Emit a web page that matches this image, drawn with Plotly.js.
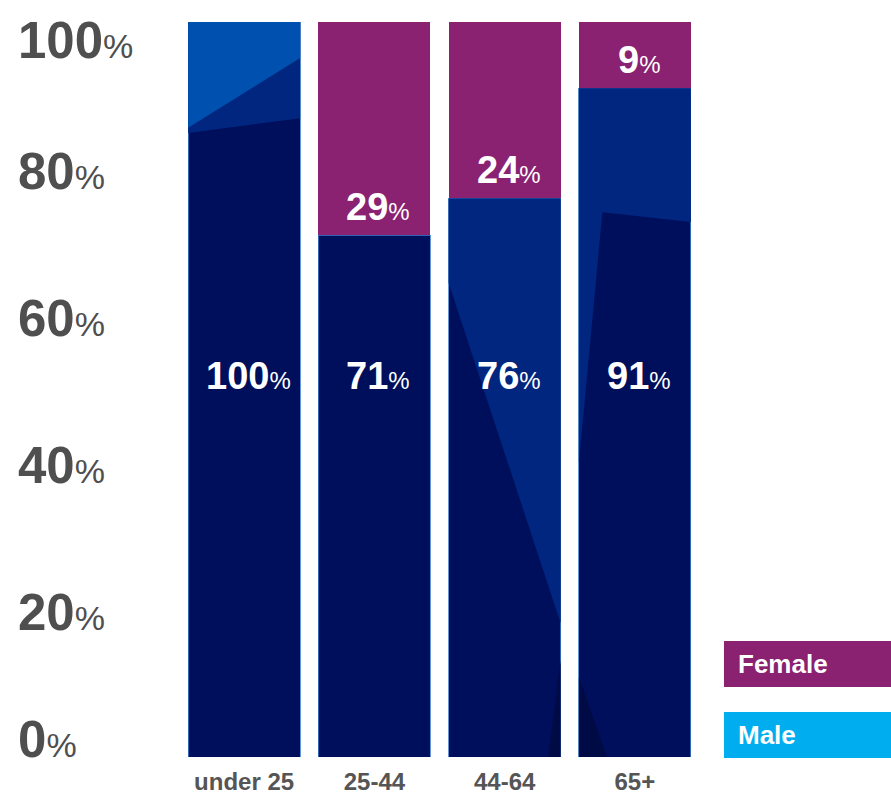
<!DOCTYPE html>
<html>
<head>
<meta charset="utf-8">
<script src="https://cdn.plot.ly/plotly-3.0.1.min.js"></script>
<style>html,body{margin:0;padding:0;background:#fff;}#chart{width:891px;height:798px;}</style>
</head>
<body>
<div id="chart"></div>
<script>
// ---- data ----
const categories = ["under 25", "25-44", "44-64", "65+"];
const maleValues = [100, 71, 76, 91];
const femaleValues = [0, 29, 24, 9];
const yTickValues = [0, 20, 40, 60, 80, 100];

// ---- style ----
const NAVY = "#000F5C", MID = "#00267F", LIGHT = "#0051AF", DEEP = "#000A45";
const PURPLE = "#8A2171", CYAN = "#00AEEF", GREY = "#4F4F4F";
const FONT = "Liberation Sans, Arial, Helvetica, sans-serif";
const BARW = 0.86;

const traces = [
  {
    type: "bar", name: "Male", x: categories, y: maleValues, width: BARW,
    marker: {color: NAVY, line: {color: "#3B7BCB", width: 0.8}},
    hoverinfo: "skip"
  },
  {
    type: "bar", name: "Female", x: categories, y: femaleValues, width: BARW,
    marker: {color: PURPLE, line: {width: 0}},
    hoverinfo: "skip"
  }
];

// decorative shading inside the male bars: [barIndex, color, points as [fraction across bar, y or 'top']]
const shading = [
  [0, MID,   [[0, "top"], [1, "top"], [1, 86.9], [0, 84.9]]],
  [0, LIGHT, [[0, "top"], [1, "top"], [1, 95.1], [0, 85.6]]],
  [2, MID,   [[0, "top"], [1, "top"], [1, 18.2], [0, 64.5]]],
  [2, DEEP,  [[1, 13.2], [1, 0], [0.89, 0]]],
  [3, MID,   [[0, "top"], [1, "top"], [1, 72.8], [0.21, 74.1], [0, 40]]],
  [3, DEEP,  [[0, 10.9], [0, 0], [0.25, 0]]]
];
const shapes = shading.map(([i, color, pts]) => {
  const path = pts.map((p, k) => {
    const x = i - BARW / 2 + p[0] * BARW;
    const y = p[1] === "top" ? maleValues[i] : p[1];
    return (k === 0 ? "M" : "L") + x + "," + y;
  }).join(" ") + " Z";
  return {type: "path", xref: "x", yref: "y", path: path, fillcolor: color, line: {width: 0}, layer: "above"};
});

// legend boxes
shapes.push({type: "rect", xref: "paper", yref: "paper", x0: 1.046, x1: 1.37, y0: 0.0952, y1: 0.1578, fillcolor: PURPLE, line: {width: 0}});
shapes.push({type: "rect", xref: "paper", yref: "paper", x0: 1.046, x1: 1.37, y0: -0.0014, y1: 0.0612, fillcolor: CYAN, line: {width: 0}});

const pct = (v, small) => "<b>" + v + "</b><span style='font-size:" + small + "px'>%</span>";

const annotations = [];
// y axis labels
yTickValues.forEach(v => {
  let ys = -2;
  if (v === 100) ys = -18;
  if (v === 0) ys = 18;
  annotations.push({
    xref: "paper", yref: "y", x: -0.313, y: v, xanchor: "left", yanchor: "middle", yshift: ys,
    text: pct(v, 34), showarrow: false,
    font: {family: FONT, size: 51, color: GREY}
  });
});
// bar labels
categories.forEach((c, i) => {
  annotations.push({
    xref: "x", yref: "y", x: i, y: 51.8, xanchor: "center", yanchor: "middle", xshift: 4,
    text: pct(maleValues[i], 24), showarrow: false,
    font: {family: FONT, size: 38, color: "#FFFFFF"}
  });
  if (femaleValues[i] > 0) {
    annotations.push({
      xref: "x", yref: "y", x: i, y: maleValues[i], xanchor: "center", yanchor: "middle", xshift: 4, yshift: 28,
      text: pct(femaleValues[i], 24), showarrow: false,
      font: {family: FONT, size: 38, color: "#FFFFFF"}
    });
  }
});
// legend text
annotations.push({xref: "paper", yref: "paper", x: 1.07, y: 0.1265, xanchor: "left", yanchor: "middle",
  text: "<b>Female</b>", showarrow: false, font: {family: FONT, size: 26, color: "#FFFFFF"}});
annotations.push({xref: "paper", yref: "paper", x: 1.07, y: 0.0299, xanchor: "left", yanchor: "middle",
  text: "<b>Male</b>", showarrow: false, font: {family: FONT, size: 26, color: "#FFFFFF"}});

const layout = {
  width: 891, height: 798,
  margin: {l: 179, r: 191, t: 22, b: 41, pad: 0},
  barmode: "stack",
  showlegend: false,
  paper_bgcolor: "#FFFFFF", plot_bgcolor: "#FFFFFF",
  xaxis: {
    type: "category", range: [-0.5, 3.5], showgrid: false, zeroline: false, showline: false,
    ticks: "", ticklabelstandoff: 8,
    tickfont: {family: FONT, size: 24, color: "#555555", weight: "bold"}
  },
  yaxis: {
    range: [0, 100], showgrid: false, zeroline: false, showline: false,
    showticklabels: false, ticks: "", tickvals: yTickValues
  },
  shapes: shapes,
  annotations: annotations
};

Plotly.newPlot("chart", traces, layout, {staticPlot: true, displayModeBar: false});
</script>
</body>
</html>
